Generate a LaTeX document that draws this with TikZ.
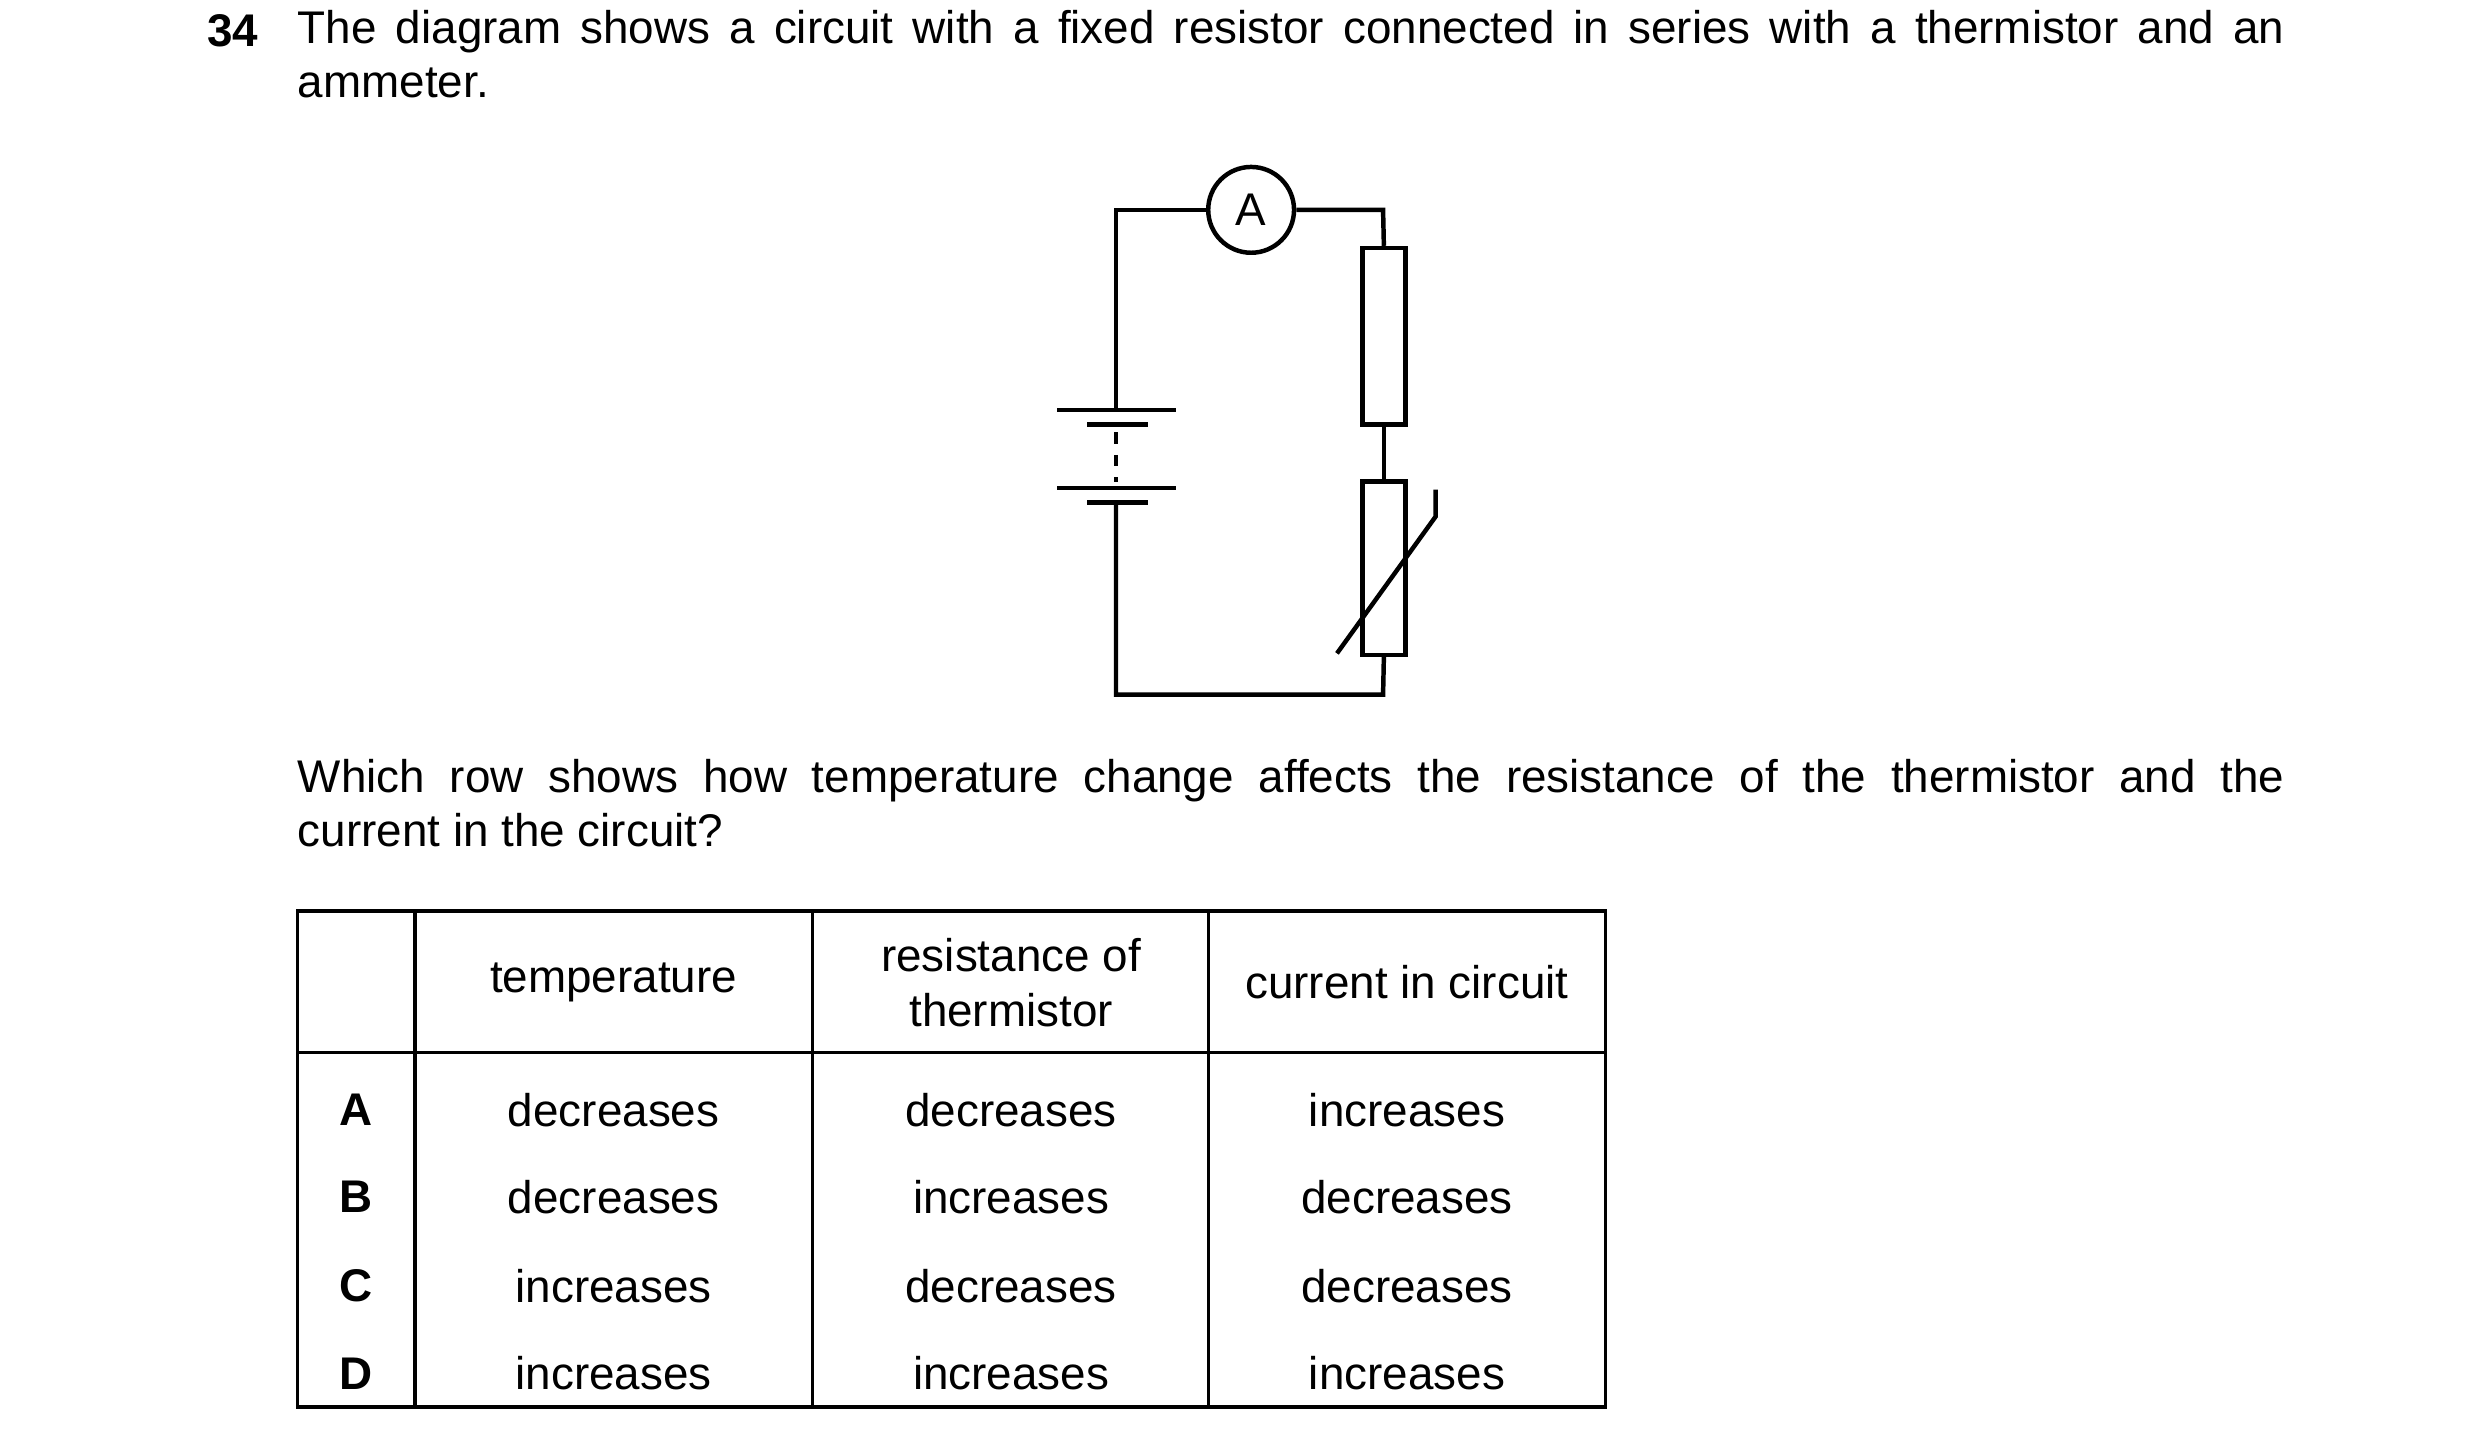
\documentclass[tikz,border=0pt]{standalone}
\usepackage{fontspec}
\setmainfont{Liberation Sans}
\begin{document}
\begin{tikzpicture}[x=0.02cm,y=-0.02cm,
  txt/.style={font=\fontsize{16.4}{19.5}\selectfont},
  w/.style={line width=1.6pt},
  cell/.style={txt,anchor=center,inner sep=0pt}]
\useasboundingbox (0,0) rectangle (1560,906);
% question
\node[txt,font=\fontsize{16.4}{19.5}\selectfont\bfseries,anchor=base west,inner sep=0pt] (num) at (130,29) {34};
\node[txt,anchor=north west,inner sep=0pt,text width=25cm,align=justify] (q1) at (187,6)
 {The diagram shows a circuit with a fixed resistor connected in series with a thermistor and an\linebreak ammeter.};
\node[txt,anchor=north west,inner sep=0pt,text width=25cm,align=justify] (q2) at (187,477)
 {Which row shows how temperature change affects the resistance of the thermistor and the\linebreak current in the circuit?};
% circuit
\node[circle,draw,w,minimum size=1.08cm,inner sep=0pt,txt] (am) at (787,132) {A};
\coordinate (tl) at (702,132); \coordinate (tr) at (870,132);
\coordinate (bl) at (702,437); \coordinate (br) at (870,437);
\node[draw,w,minimum width=0.54cm,minimum height=2.22cm,inner sep=0pt] (res) at (870.5,211.5) {};
\node[draw,w,minimum width=0.54cm,minimum height=2.18cm,inner sep=0pt] (th) at (870.5,357.5) {};
\draw[w] (am.west) -- (tl) -- (702,258);
\draw[w] (am.east) -- (tr) -- (res.north);
\draw[w] (res.south) -- (th.north);
\draw[w] (th.south) -- (br) -- (bl) -- (702,316);
\coordinate (d1) at (841,411); \coordinate (d2) at (903,325); \coordinate (d3) at (903,308);
\draw[w] (d1) -- (d2) -- (d3);
% battery
\draw[w] (665,258) -- (740,258);
\draw[w] (684,267) -- (722,267);
\draw[line width=1.2pt,dash pattern=on 4pt off 4pt] (702,272) -- (702,303);
\draw[w] (665,307) -- (740,307);
\draw[w] (684,316) -- (722,316);
% table
\draw[line width=1.2pt] (187,573) rectangle (1010,885);
\draw[line width=1.2pt] (187,662) -- (1010,662);
\foreach \x in {261,511,760} \draw[line width=1.2pt] (\x,573) -- (\x,885);
\node[cell] (h1) at (386,618) {temperature};
\node[cell,align=center,font=\fontsize{16.4}{19.5}\selectfont] (h2) at (636,618) {resistance of\\thermistor};
\node[cell] (h3) at (885,618) {current in circuit};
\foreach \l/\y/\a/\b/\c in {A/698/decreases/decreases/increases,B/753/decreases/increases/decreases,C/809/increases/decreases/decreases,D/864/increases/increases/increases}{
  \node[cell,font=\fontsize{16.4}{19.5}\selectfont\bfseries] at (224,\y) {\l};
  \node[cell] at (386,\y) {\a};
  \node[cell] at (636,\y) {\b};
  \node[cell] at (885,\y) {\c};
}
\end{tikzpicture}
\end{document}
